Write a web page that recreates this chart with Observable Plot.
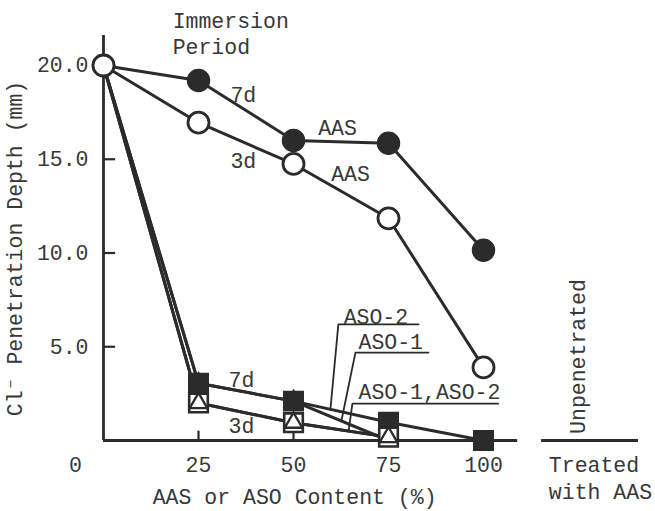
<!DOCTYPE html>
<html>
<head>
<meta charset="utf-8">
<script src="https://cdn.jsdelivr.net/npm/d3@7"></script>
<script src="https://cdn.jsdelivr.net/npm/@observablehq/plot@0.6"></script>
<style>
  html, body { margin: 0; padding: 0; background: #fff; }
</style>
</head>
<body>
<div id="chart"></div>
<script>
// ---- data ----
const contentPct = [0, 25, 50, 75, 100];
const aas7d   = [20.0, 19.2, 16.0, 15.85, 10.15];
const aas3d   = [20.0, 16.95, 14.75, 11.85, 3.9];
const aso2_7d = [20.0, 3.05, 2.1, 0.97, 0.0];
const aso1_7d = [20.0, 3.05, 2.1, 0.0];
const aso2_3d = [20.0, 2.0, 0.95, 0.18];
const aso1_3d = [20.0, 2.0, 0.95, 0.18];

const xTickValues = [25, 50, 75, 100];
const xTickLabels = ["25", "50", "75", "100"];
const yTickValues = [5, 10, 15, 20];
const yTickLabels = ["5.0", "10.0", "15.0", "20.0"];

// annotation anchors (data units)
const seriesLabels = [
  {x: 36.8, y: 18.4, t: "7d"},
  {x: 36.8, y: 14.9, t: "3d"},
  {x: 61.6, y: 16.64, t: "AAS"},
  {x: 65.0, y: 14.19, t: "AAS"},
  {x: 36.3, y: 3.2, t: "7d"},
  {x: 36.3, y: 0.75, t: "3d"}
];
const leaderLabels = [
  {x: 63.2, y: 6.6, t: "ASO-2"},
  {x: 67.1, y: 5.23, t: "ASO-1"},
  {x: 67.1, y: 2.56, t: "ASO-1,ASO-2"}
];
const leaders = [
  {id: "ASO-2", pts: [[59.7, 1.62], [61.8, 6.19], [82.9, 6.19]]},
  {id: "ASO-1", pts: [[62.6, 1.04], [66.3, 4.69], [85.5, 4.69]]},
  {id: "ASO-1,ASO-2", pts: [[64.5, 0.50], [65.5, 1.97], [103.9, 1.97]]}
];

// ---- build tables ----
function rows(name, ys) { return ys.map((y, i) => ({series: name, x: contentPct[i], y})); }
const lineRows = [
  ...rows("AAS 7d", aas7d), ...rows("AAS 3d", aas3d),
  ...rows("ASO-2 7d", aso2_7d), ...rows("ASO-1 7d", aso1_7d),
  ...rows("ASO-2 3d", aso2_3d), ...rows("ASO-1 3d", aso1_3d)
];
const noZero = d => d.x > 0;
const leaderRows = leaders.flatMap(l => l.pts.map(([x, y]) => ({id: l.id, x, y})));

const ink = "#2b2b2b";
const txt = "#383838";
const font = "'Liberation Mono', 'DejaVu Sans Mono', monospace";
const fs = 21.5;

const chart = Plot.plot({
  width: 655,
  height: 511,
  marginLeft: 103,
  marginRight: 1,
  marginTop: 35,
  marginBottom: 71,
  x: {domain: [0, 145], axis: null},
  y: {domain: [0, 21.6], axis: null},
  style: {fontFamily: font, background: "#fff", color: txt},
  marks: [
    // axes
    Plot.ruleX([0], {y1: 0, y2: 21.6, stroke: ink, strokeWidth: 2.8}),
    Plot.ruleY([0], {x1: 0, x2: 109, stroke: ink, strokeWidth: 2.8}),
    Plot.ruleY([0], {x1: 115.3, x2: 140.8, stroke: ink, strokeWidth: 2.8}),
    Plot.ruleY(yTickValues, {x1: 0, x2: 3.2, stroke: ink, strokeWidth: 2.2}),
    Plot.ruleX(xTickValues, {y1: 0, y2: 0.5, stroke: ink, strokeWidth: 2.2}),
    // tick labels
    Plot.text(yTickValues, {x: 0, y: d => d, text: (d, i) => yTickLabels[i], textAnchor: "end", dx: -15, fontSize: fs, fill: txt}),
    Plot.text(xTickValues, {x: d => d, y: 0, text: (d, i) => xTickLabels[i], dy: 25, fontSize: fs, fill: txt}),
    Plot.text(["0"], {x: 0, y: 0, text: d => d, dx: -28, dy: 25, fontSize: fs, fill: txt}),
    // axis titles
    Plot.text(["AAS or ASO Content (%)"], {x: 50.3, y: 0, text: d => d, dy: 57, fontSize: fs, fill: txt}),
    Plot.text(["Cl\u207B Penetration Depth (mm)"], {x: -23.2, y: 10.24, text: d => d, rotate: -90, fontSize: fs, fill: txt}),
    Plot.text(["Immersion", "Period"], {x: 18.2, y: (d, i) => [22.35, 21.0][i], text: d => d, textAnchor: "start", fontSize: fs, fill: txt}),
    Plot.text(["Treated"], {x: 117.2, y: 0, text: d => d, textAnchor: "start", fontSize: fs, fill: txt, dy: 25}),
    Plot.text(["with AAS"], {x: 117.2, y: 0, text: d => d, textAnchor: "start", fontSize: fs, fill: txt, dy: 52}),
    Plot.text(["Unpenetrated"], {x: 125, y: 4.48, text: d => d, rotate: -90, fontSize: fs, fill: txt}),
    // leader lines
    Plot.line(leaderRows, {x: "x", y: "y", z: "id", stroke: ink, strokeWidth: 1.8, curve: "linear"}),
    Plot.text(leaderLabels, {x: "x", y: "y", text: "t", textAnchor: "start", fontSize: fs, fill: txt}),
    Plot.text(seriesLabels, {x: "x", y: "y", text: "t", fontSize: fs, fill: txt}),
    // data lines
    Plot.line(lineRows, {x: "x", y: "y", z: "series", stroke: ink, strokeWidth: 3}),
    // ASO markers
    Plot.dot(rows("ASO-1 7d", aso1_7d).filter(noZero), {x: "x", y: "y", symbol: "triangle", r: 7, fill: ink, stroke: ink}),
    Plot.dot(rows("ASO-2 7d", aso2_7d).filter(noZero), {x: "x", y: "y", symbol: "square", r: 11, fill: ink, stroke: ink}),
    Plot.dot(rows("ASO-2 3d", aso2_3d).filter(noZero), {x: "x", y: "y", symbol: "square", r: 10.5, fill: "#fff", stroke: ink, strokeWidth: 2.6}),
    Plot.dot(rows("ASO-1 3d", aso1_3d).filter(noZero), {x: "x", y: "y", symbol: "triangle", r: 6.5, fill: "#fff", stroke: ink, strokeWidth: 2.3}),
    // AAS markers
    Plot.dot(rows("AAS 7d", aas7d), {x: "x", y: "y", r: 11, fill: ink, stroke: ink}),
    Plot.dot(rows("AAS 3d", aas3d), {x: "x", y: "y", r: 10.5, fill: "#fff", stroke: ink, strokeWidth: 2.8})
  ]
});
document.getElementById("chart").appendChild(chart);
</script>
</body>
</html>
